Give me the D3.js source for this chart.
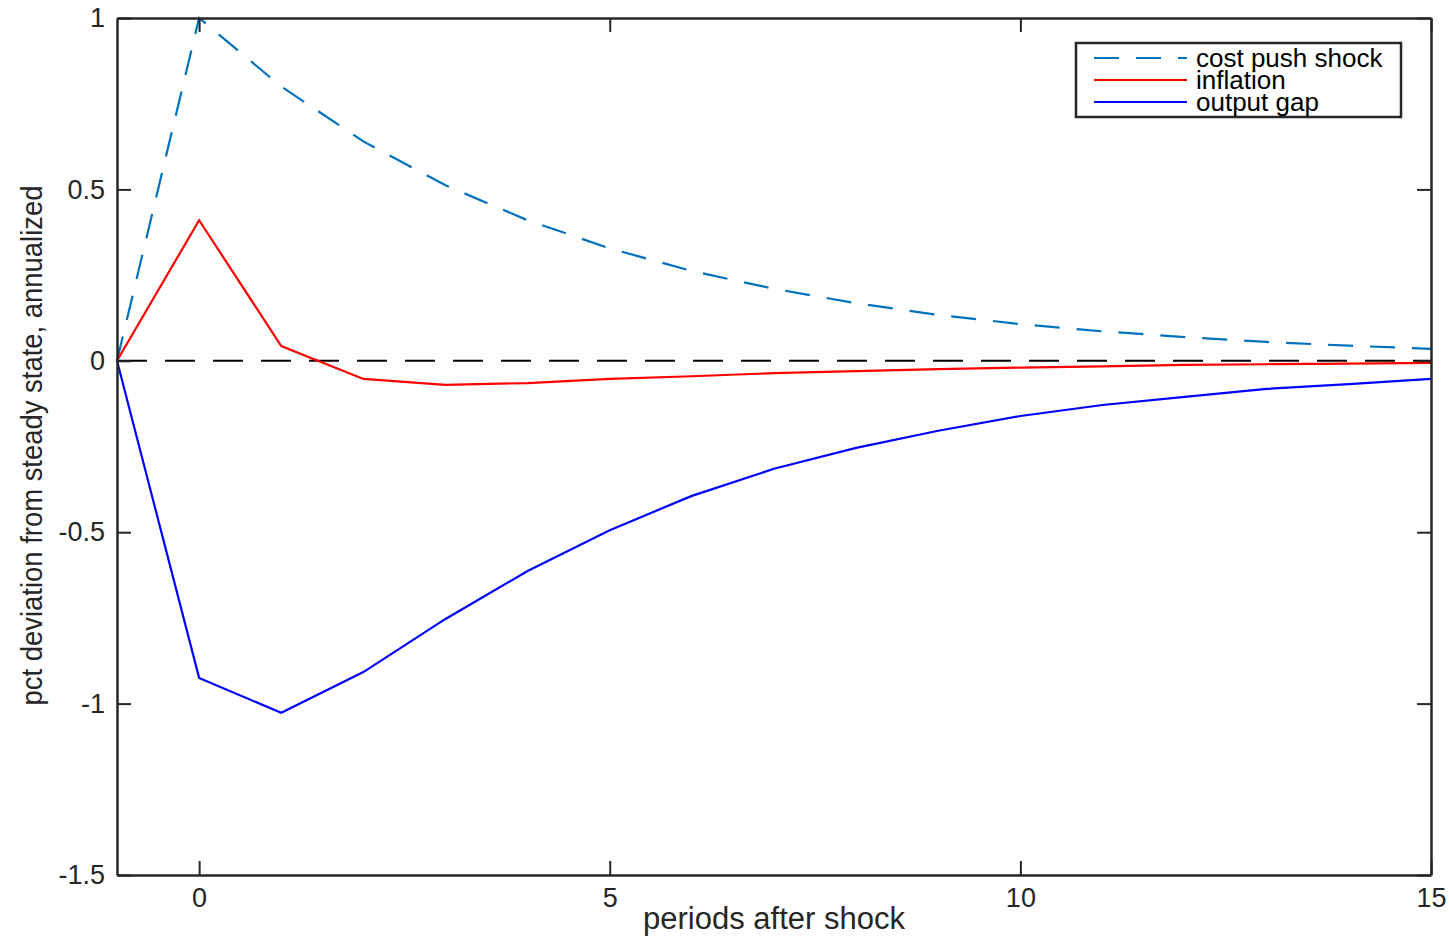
<!DOCTYPE html>
<html>
<head>
<meta charset="utf-8">
<script src="https://cdn.jsdelivr.net/npm/d3@7"></script>
<style>
  body { margin: 0; background: #fff; }
  text { font-family: "Liberation Sans", Arial, sans-serif; fill: #262626; }
</style>
</head>
<body>
<svg id="irf" width="1449" height="937"></svg>
<script>
const periods = d3.range(-1, 16);

const costPush = [0, 1, 0.8, 0.64, 0.512, 0.41, 0.328, 0.262, 0.21, 0.168, 0.134, 0.107, 0.086, 0.069, 0.055, 0.044, 0.035];
const inflation = [0, 0.41, 0.043, -0.053, -0.07, -0.065, -0.053, -0.045, -0.036, -0.03, -0.024, -0.02, -0.016, -0.012, -0.01, -0.008, -0.006];
const outputGap = [0, -0.925, -1.027, -0.908, -0.753, -0.613, -0.494, -0.394, -0.315, -0.254, -0.204, -0.161, -0.129, -0.105, -0.082, -0.068, -0.053];

const xTicks = [0, 5, 10, 15];
const yTicks = [-1.5, -1, -0.5, 0, 0.5, 1];

const seriesNames = ['cost push shock', 'inflation', 'output gap'];

const svg = d3.select('#irf'),
  margin = { top: 18, right: 18, bottom: 62, left: 117 },
  width = +svg.attr('width'),
  height = +svg.attr('height');

const x = d3.scaleLinear()
  .domain([-1, 15])
  .range([margin.left, width - margin.right]);

const y = d3.scaleLinear()
  .domain([-1.5, 1])
  .range([height - margin.bottom, margin.top]);

const series = [
  { name: seriesNames[0], values: costPush, color: '#0072BD', dash: '25,17' },
  { name: seriesNames[1], values: inflation, color: '#FF0000', dash: null },
  { name: seriesNames[2], values: outputGap, color: '#0000FF', dash: null }
];

const tickLen = 14;
const axisColor = '#262626';

// zero line
svg.append('line')
  .attr('x1', x(-1)).attr('x2', x(15))
  .attr('y1', y(0)).attr('y2', y(0))
  .attr('stroke', '#000')
  .attr('stroke-width', 2)
  .attr('stroke-dasharray', '30,18');

const line = d3.line()
  .x((d, i) => x(periods[i]))
  .y(d => y(d));

svg.append('g')
  .selectAll('path')
  .data(series)
  .join('path')
  .attr('d', d => line(d.values))
  .attr('fill', 'none')
  .attr('stroke', d => d.color)
  .attr('stroke-width', 2.2)
  .attr('stroke-dasharray', d => d.dash);

// matlab-ish tick format: plain hyphen minus
const fmt = d => String(d);

// axes (box with inward ticks)
const xAxis = g => g
  .attr('transform', `translate(0,${y(-1.5)})`)
  .call(d3.axisBottom(x).tickValues(xTicks).tickFormat(fmt).tickSizeInner(-tickLen).tickSizeOuter(0).tickPadding(10))
  .call(g => g.selectAll('text').attr('font-size', 27).attr('dy', '0.8em'));

const yAxis = g => g
  .attr('transform', `translate(${x(-1)},0)`)
  .call(d3.axisLeft(y).tickValues(yTicks).tickFormat(fmt).tickSizeInner(-tickLen).tickSizeOuter(0).tickPadding(12))
  .call(g => g.selectAll('text').attr('font-size', 27));

const xTop = g => g
  .attr('transform', `translate(0,${y(1)})`)
  .call(d3.axisTop(x).tickValues(xTicks).tickSizeInner(-tickLen).tickSizeOuter(0).tickFormat(''));

const yRight = g => g
  .attr('transform', `translate(${x(15)},0)`)
  .call(d3.axisRight(y).tickValues(yTicks).tickSizeInner(-tickLen).tickSizeOuter(0).tickFormat(''));

[xAxis, yAxis, xTop, yRight].forEach(a => {
  svg.append('g').call(a)
    .call(g => g.selectAll('.domain').attr('stroke', axisColor).attr('stroke-width', 2.5))
    .call(g => g.selectAll('.tick line').attr('stroke', axisColor).attr('stroke-width', 2));
});

// axis labels
svg.append('text')
  .attr('x', 774)
  .attr('y', 929)
  .attr('text-anchor', 'middle')
  .attr('font-size', 31)
  .text('periods after shock');

svg.append('text')
  .attr('transform', `translate(42,${(y(-1.5) + y(1)) / 2 - 1}) rotate(-90)`)
  .attr('text-anchor', 'middle')
  .attr('font-size', 30)
  .attr('textLength', 520)
  .attr('lengthAdjust', 'spacingAndGlyphs')
  .text('pct deviation from steady state, annualized');

// legend
const legend = svg.append('g').attr('transform', 'translate(1076,43)');

legend.append('rect')
  .attr('width', 325)
  .attr('height', 74)
  .attr('fill', '#fff')
  .attr('stroke', axisColor)
  .attr('stroke-width', 2.5);

const item = legend.selectAll('g.item')
  .data(series)
  .join('g')
  .attr('class', 'item')
  .attr('transform', (d, i) => `translate(0,${15 + i * 22})`);

item.append('line')
  .attr('x1', 18).attr('x2', 111)
  .attr('stroke', d => d.color)
  .attr('stroke-width', 2.2)
  .attr('stroke-dasharray', d => d.dash);

item.append('text')
  .attr('x', 120)
  .attr('dy', '0.33em')
  .attr('font-size', 26)
  .style('fill', '#000')
  .text(d => d.name);
</script>
</body>
</html>
